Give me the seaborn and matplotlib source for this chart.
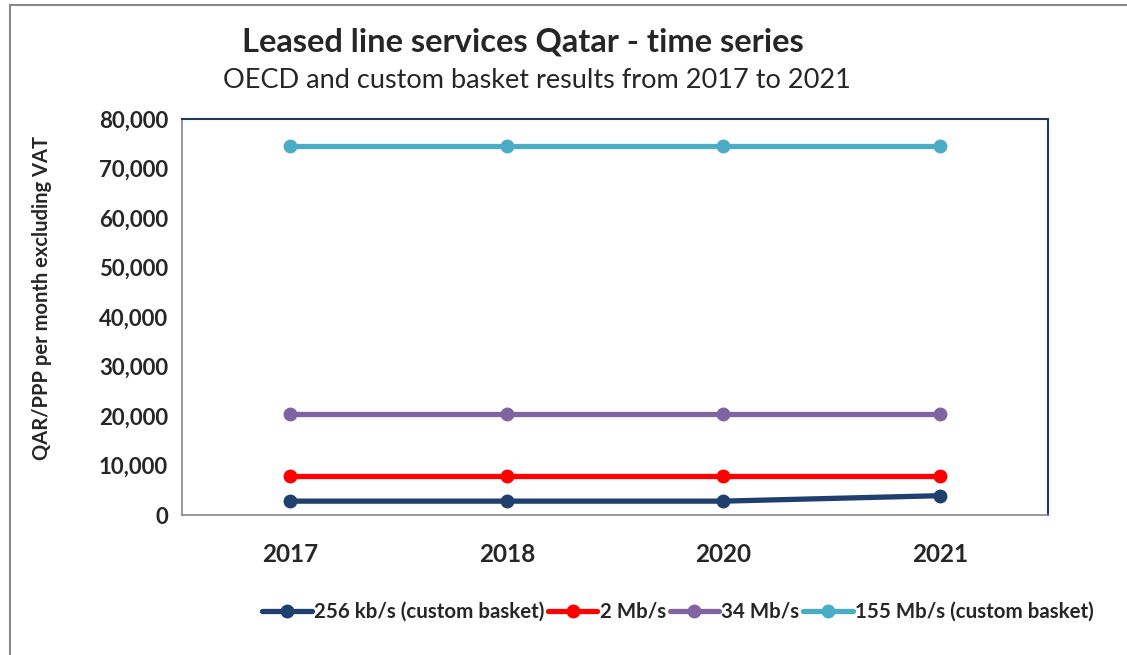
import numpy as np
import pandas as pd
import seaborn as sb
import matplotlib as mpl
import matplotlib.pyplot as plt
from matplotlib.patches import Rectangle
from matplotlib.ticker import FuncFormatter

sb.set_style("white")
mpl.rc('font', family=['Lato', 'DejaVu Sans'])

# Data
years = ["2017", "2018", "2020", "2021"]
kb256 = [2800, 2800, 2800, 3900]
mb2 = [7900, 7900, 7900, 7900]
mb34 = [20400, 20400, 20400, 20400]
mb155 = [74500, 74500, 74500, 74500]
series_names = ["256 kb/s (custom basket)", "2 Mb/s", "34 Mb/s", "155 Mb/s (custom basket)"]
colors = ["#1F3F6E", "#FF0000", "#8064A2", "#4BACC6"]

rows = []
for name, vals in zip(series_names, [kb256, mb2, mb34, mb155]):
    for y, v in zip(years, vals):
        rows.append({"Year": y, "Value": v, "Series": name})
df = pd.DataFrame(rows)

fig = plt.figure(figsize=(11.27, 6.55), dpi=100)
ax = fig.add_axes([182/1127, 1-515/655, 866/1127, 396/655])

sb.lineplot(data=df, x="Year", y="Value", hue="Series", palette=colors,
            marker="o", markersize=10, markeredgewidth=0, linewidth=3.8,
            sort=False, ax=ax)

ax.set_xlim(-0.5, 3.5)
ax.set_ylim(0, 80000)
ax.set_yticks(np.arange(0, 80001, 10000))
ax.yaxis.set_major_formatter(FuncFormatter(lambda v, p: "{:,.0f}".format(v)))
ax.tick_params(axis='y', direction='out', length=5, width=1, color='#888888',
               labelsize=16, pad=5)
ax.tick_params(axis='x', length=0, labelsize=17.5, pad=20)
for lab in ax.get_yticklabels() + ax.get_xticklabels():
    lab.set_fontweight('bold')
ax.set_xlabel("")
ax.set_ylabel("QAR/PPP per month excluding VAT", fontsize=14.5, fontweight='bold')
ax.yaxis.set_label_coords((52 - 182)/866, (515 - 298)/396)

for s in ['left', 'bottom']:
    ax.spines[s].set_color('#888888')
    ax.spines[s].set_linewidth(1.2)
for s in ['top', 'right']:
    ax.spines[s].set_color('#1F3864')
    ax.spines[s].set_linewidth(1.5)

leg = ax.legend(loc='center left', bbox_to_anchor=((252 - 182)/866, (515 - 612)/396), ncol=4,
                frameon=False, borderpad=0, handlelength=2.4, handletextpad=0.1,
                columnspacing=0.2, prop={'weight': 'bold', 'size': 14.8})
for h in leg.legend_handles:
    h.set_linewidth(3.8)
    h.set_markersize(10)

fig.text(523/1127, 1-42/655, "Leased line services Qatar - time series", ha='center', va='center',
         fontsize=23.5, fontweight='bold')
fig.text(537/1127, 1-80/655, "OECD and custom basket results from 2017 to 2021", ha='center', va='center',
         fontsize=19.5)

fig.patches.append(Rectangle((10/1127, -0.05), 1.2, 1-5/655+0.05, transform=fig.transFigure,
                             fill=False, edgecolor='#888888', linewidth=1.5, figure=fig))

fig.savefig("out.png", dpi=100)
